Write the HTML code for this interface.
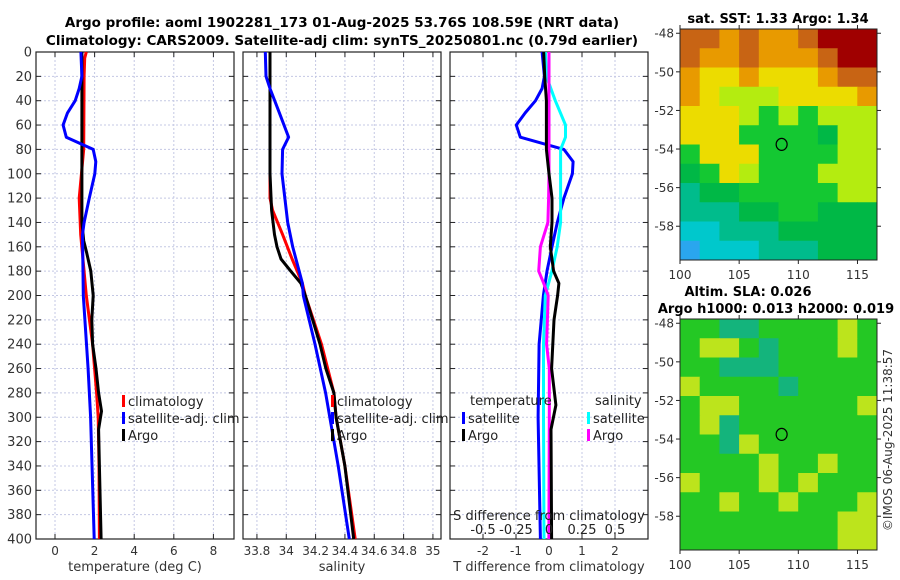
<!DOCTYPE html>
<html><head><meta charset="utf-8">
<style>
html,body{margin:0;padding:0;background:#fff;width:900px;height:580px;overflow:hidden}
svg{font-family:"DejaVu Sans","Liberation Sans",sans-serif}
.tk{font-size:12px;fill:#333}
.at{font-size:13px;fill:#333}
.ttl{font-size:13.5px;font-weight:bold;fill:#000}
.mt{font-size:13px;font-weight:bold;fill:#000}
.lg{font-size:13px;fill:#222}
</style></head>
<body>
<svg id="fig" width="900" height="580" viewBox="0 0 900 580">
<defs>
<clipPath id="clipM1"><rect x="680" y="29" width="197" height="231"/></clipPath>
<clipPath id="clipM2"><rect x="680" y="319" width="197" height="231"/></clipPath>
</defs>
<text class="ttl" x="342" y="27" text-anchor="middle">Argo profile: aoml 1902281_173 01-Aug-2025 53.76S 108.59E (NRT data)</text>
<text class="ttl" x="342" y="45" text-anchor="middle">Climatology: CARS2009. Satellite-adj clim: synTS_20250801.nc (0.79d earlier)</text>
<g id="panels"></g>
<g id="maps"></g>
<text class="tk" transform="translate(892,440) rotate(-90)" text-anchor="middle">©IMOS 06-Aug-2025 11:38:57</text>
</svg>
<script>
// ---- data ----
const depthTicks = [0,20,40,60,80,100,120,140,160,180,200,220,240,260,280,300,320,340,360,380,400];
const tempTicks = [0,2,4,6,8];
const salTicks = [33.8,34,34.2,34.4,34.6,34.8,35];
const salTickLabels = ["33.8","34","34.2","34.4","34.6","34.8","35"];
const diffTicks = [-2,-1,0,1,2];
const sdiffTicks = [-0.5,-0.25,0,0.25,0.5];
const sdiffLabels = ["-0.5","-0.25","0","0.25","0.5"];

const tClimDepth = [0,5,20,80,120,150,200,240,280,300,340,400];
const tClimVals  = [1.58,1.5,1.47,1.45,1.22,1.3,1.58,1.9,2.1,2.18,2.22,2.24];
const tSatDepth = [0,20,30,40,50,60,70,80,90,100,120,140,150,200,260,300,400];
const tSatVals  = [1.31,1.36,1.22,1.02,0.63,0.41,0.57,1.93,2.06,2.01,1.73,1.47,1.39,1.43,1.67,1.8,1.98];
const tArgoDepth = [0,20,40,80,140,155,165,180,200,220,240,260,280,295,310,340,400];
const tArgoVals  = [1.36,1.36,1.36,1.36,1.36,1.45,1.6,1.81,1.93,1.86,1.9,2.07,2.2,2.35,2.2,2.24,2.33];

const sClimDepth = [0,120,130,150,170,190,200,240,280,300,340,400];
const sClimVals  = [33.889,33.889,33.907,33.975,34.04,34.11,34.13,34.24,34.325,34.34,34.40,34.47];
const sSatDepth = [0,20,30,50,70,80,100,140,160,190,200,240,280,300,340,400];
const sSatVals  = [33.857,33.862,33.889,33.953,34.016,33.975,33.971,34.01,34.044,34.11,34.116,34.196,34.268,34.297,34.354,34.43];
const sArgoDepth = [0,100,130,150,160,170,180,190,200,240,260,280,300,340,400];
const sArgoVals  = [33.889,33.889,33.90,33.92,33.937,33.964,34.03,34.10,34.13,34.23,34.27,34.325,34.34,34.40,34.46];

const dTSatDepth = [0,20,30,40,50,60,70,80,90,100,120,140,160,180,200,240,300,400];
const dTSatVals  = [-0.21,-0.14,-0.21,-0.41,-0.72,-0.99,-0.87,0.45,0.73,0.71,0.45,0.25,0.09,-0.06,-0.17,-0.3,-0.33,-0.26];
const dTArgoDepth = [0,20,40,80,100,120,140,160,180,190,200,220,260,290,310,400];
const dTArgoVals  = [-0.16,-0.13,-0.08,-0.08,0,0.09,0.09,0.04,0.14,0.3,0.26,0.15,0.08,0.21,0.06,0.08];
const dSSatDepth = [0,20,40,60,70,80,100,140,160,180,200,240,300,400];
const dSSatVals  = [-0.027,-0.02,0.048,0.125,0.125,0.088,0.088,0.088,0.062,0.022,-0.028,-0.042,-0.042,-0.038];
const dSArgoDepth = [0,100,120,140,160,180,190,200,240,260,300,400];
const dSArgoVals  = [0,0,-0.003,-0.008,-0.065,-0.078,-0.04,-0.006,-0.018,0.002,0.002,-0.001];

const lonTicks = [100,105,110,115];
const latTicks = [-48,-50,-52,-54,-56,-58];
const argoLon = [108.59];
const argoLat = [-53.76];
const sstRows = ["BBOBOOBRRR","BOOBOOOBRR","OYYOYYYOBB","OYLLLYYYYO","YYYLGLGLLL","YYYGGGGDLL","GYYYGGGGLL","DGYLGGGLLL","TDDGGGGGLL","TTTDDGGDDD","CCTTTDDDDD","UCCCTTTDDD"];
const slaRows = ["GGTTGGGGYG","GYYGTGGGYG","GGTTTGGGGG","YGGGGTGGGG","GYYGGGGGGY","GYTGGGGGGG","GGTYGGGGGG","GGGGYGGYGG","YGGGYGYGGG","GGYGGYGGGY","GGGGGGGGYY","GGGGGGGGYY"];

// ---- helpers ----
const NS="http://www.w3.org/2000/svg";
function mk(tag,attrs,parent){const e=document.createElementNS(NS,tag);for(const k in attrs)e.setAttribute(k,attrs[k]);parent.appendChild(e);return e;}
const TOP=52,BOT=539;
const yScale=d=>TOP+(d-0)/(400-0)*(BOT-TOP);
const panelsG=document.getElementById('panels');

function drawPanel(name,x0,x1,xmin,xmax,ticks,labels,xlabel,showY){
  const xs=v=>x0+(v-xmin)/(xmax-xmin)*(x1-x0);
  const g=mk('g',{},panelsG);
  
  
  depthTicks.forEach(d=>{
    const y=yScale(d);
    const gl=mk('line',{x1:x0,x2:x1,y1:y,y2:y,stroke:'#c4c8e4','stroke-width':1,'stroke-dasharray':'2,2'},g);
    
    
    mk('line',{x1:x0,x2:x0+5,y1:y,y2:y,stroke:'#222'},g);
    mk('line',{x1:x1-5,x2:x1,y1:y,y2:y,stroke:'#222'},g);
    if(showY){const t=mk('text',{x:x0-4,y:y+4.5,'text-anchor':'end',class:'at'},g);t.textContent=d;
      
      }
  });
  ticks.forEach((v,i)=>{
    const x=xs(v);
    const gl=mk('line',{x1:x,x2:x,y1:TOP,y2:BOT,stroke:'#c4c8e4','stroke-width':1,'stroke-dasharray':'2,2'},g);
    
    
    mk('line',{x1:x,x2:x,y1:BOT,y2:BOT-5,stroke:'#222'},g);
    mk('line',{x1:x,x2:x,y1:TOP,y2:TOP+5,stroke:'#222'},g);
    const t=mk('text',{x:x,y:555,'text-anchor':'middle',class:'tk'},g);t.textContent=labels[i];
    
    
  });
  const fr=mk('rect',{x:x0,y:TOP,width:x1-x0,height:BOT-TOP,fill:'none',stroke:'#222','stroke-width':1.2},g);
  
  
  const xl=mk('text',{x:(x0+x1)/2,y:571,'text-anchor':'middle',class:'at'},g);xl.textContent=xlabel;
  
  
  return {g,xs};
}
function line(p,depths,vals,color,name,w){
  const pts=depths.map((d,i)=>p.xs(vals[i]).toFixed(1)+','+yScale(d).toFixed(1)).join(' ');
  const l=mk('polyline',{points:pts,fill:'none',stroke:color,'stroke-width':w||3,'stroke-linejoin':'round'},p.g);
  
  
}
function legend(p,x,y,color,label,name){
  mk('rect',{x:x-3,y:y-10,width:3,height:12,fill:color},p.g);
  const t=mk('text',{x:x+3,y:y+1,class:'lg'},p.g);t.textContent=label;
  
  
}

const p1=drawPanel('temperature-panel',36,234,-0.96,9.04,tempTicks,tempTicks.map(String),'temperature (deg C)',true);
line(p1,tClimDepth,tClimVals,'#ff0000','temp-climatology-line');
line(p1,tArgoDepth,tArgoVals,'#000000','temp-argo-line');
line(p1,tSatDepth,tSatVals,'#0000ff','temp-satellite-line');
legend(p1,125,405,'#ff0000','climatology','legend-climatology');
legend(p1,125,422,'#0000ff','satellite-adj. clim','legend-satellite');
legend(p1,125,439,'#000000','Argo','legend-argo');

const p2=drawPanel('salinity-panel',243,441,33.705,35.055,salTicks,salTickLabels,'salinity',false);
line(p2,sClimDepth,sClimVals,'#ff0000','sal-climatology-line');
line(p2,sArgoDepth,sArgoVals,'#000000','sal-argo-line');
line(p2,sSatDepth,sSatVals,'#0000ff','sal-satellite-line');
legend(p2,334,405,'#ff0000','climatology','legend-climatology-sal');
legend(p2,334,422,'#0000ff','satellite-adj. clim','legend-satellite-sal');
legend(p2,334,439,'#000000','Argo','legend-argo-sal');

const p3=drawPanel('difference-panel',450,648,-3,3,diffTicks,diffTicks.map(String),'T difference from climatology',false);
const p3s={g:p3.g,xs:v=>p3.xs(v*4)};
line(p3,dTSatDepth,dTSatVals,'#0000ff','tdiff-satellite-line');
line(p3s,dSSatDepth,dSSatVals,'#00ffff','sdiff-satellite-line');
line(p3s,dSArgoDepth,dSArgoVals,'#ff00ff','sdiff-argo-line');
line(p3,dTArgoDepth,dTArgoVals,'#000000','tdiff-argo-line');
(function(){
  const t=mk('text',{x:470,y:405,class:'lg'},p3.g);t.textContent='temperature';
  
  
  const s=mk('text',{x:595,y:405,class:'lg'},p3.g);s.textContent='salinity';
  
  
  legend(p3,465,422,'#0000ff','satellite','legend-t-satellite');
  legend(p3,465,439,'#000000','Argo','legend-t-argo');
  legend(p3,590,422,'#00ffff','satellite','legend-s-satellite');
  legend(p3,590,439,'#ff00ff','Argo','legend-s-argo');
  const h=mk('text',{x:549,y:520,'text-anchor':'middle',class:'lg'},p3.g);h.textContent='S difference from climatology';
  
  
  sdiffTicks.forEach((v,i)=>{
    const tt=mk('text',{x:p3s.xs(v),y:534,'text-anchor':'middle',class:'lg'},p3.g);tt.textContent=sdiffLabels[i];
    
    
  });
})();

// ---- maps ----
const mapsG=document.getElementById('maps');
const LON0=100,LON1=116.65,LAT0=-47.78,LAT1=-59.75;
const sstCol={R:'#a00000',B:'#c86414',O:'#e89a00',Y:'#ecdc00',L:'#b4ec10',G:'#14c832',D:'#00b846',T:'#00bc8c',C:'#00c8cc',U:'#2aa6ee'};
const slaCol={G:'#24c824',Y:'#bce41c',T:'#14b47c'};
function drawMap(name,top,rows,cols,clip,title,titleY){
  const x0=680,x1=877,y1=top+231;
  const lx=v=>x0+(v-LON0)/(LON1-LON0)*(x1-x0);
  const ly=v=>top+(v-LAT0)/(LAT1-LAT0)*(y1-top);
  const g=mk('g',{},mapsG);
  
  
  const img=mk('g',{'clip-path':'url(#'+clip+')'},g);
  const nr=rows.length,nc=rows[0].length,cw=(x1-x0)/nc,ch=231/nr;
  rows.forEach((r,i)=>{for(let j=0;j<nc;j++){
    const c=mk('rect',{x:x0+j*cw,y:top+i*ch,width:cw+0.5,height:ch+0.5,fill:cols[r[j]]},img);
    
    
  }});
  mk('rect',{x:x0,y:top,width:x1-x0,height:231,fill:'none',stroke:'#222','stroke-width':1},g);
  latTicks.forEach(v=>{const y=ly(v);
    mk('line',{x1:x0-4,x2:x0,y1:y,y2:y,stroke:'#222'},g);
    mk('line',{x1:x1,x2:x1+4,y1:y,y2:y,stroke:'#222'},g);
    const t=mk('text',{x:x0-6,y:y+4.5,'text-anchor':'end',class:'tk'},g);t.textContent=v;
    
    });
  lonTicks.forEach(v=>{const x=lx(v);
    mk('line',{x1:x,x2:x,y1:y1,y2:y1+4,stroke:'#222'},g);
    mk('line',{x1:x,x2:x,y1:top-4,y2:top,stroke:'#222'},g);
    const t=mk('text',{x:x,y:y1+19,'text-anchor':'middle',class:'tk'},g);t.textContent=v;
    
    });
  const c=mk('ellipse',{cx:lx(argoLon[0]),cy:ly(argoLat[0]),rx:5.5,ry:6,fill:'none',stroke:'#000','stroke-width':1.2},g);
  
  
  title.forEach((s,i)=>{
    const t=mk('text',{x:s[1],y:titleY[i],'text-anchor':'middle',class:'mt'},g);t.textContent=s[0];
    
    
  });
}
drawMap('sst-map',29,sstRows,sstCol,'clipM1',[['sat. SST: 1.33 Argo: 1.34',778]],[23]);
drawMap('sla-map',319,slaRows,slaCol,'clipM2',[['Altim. SLA: 0.026',748],['Argo h1000: 0.013 h2000: 0.019',776]],[296,313]);
</script>
</body></html>
